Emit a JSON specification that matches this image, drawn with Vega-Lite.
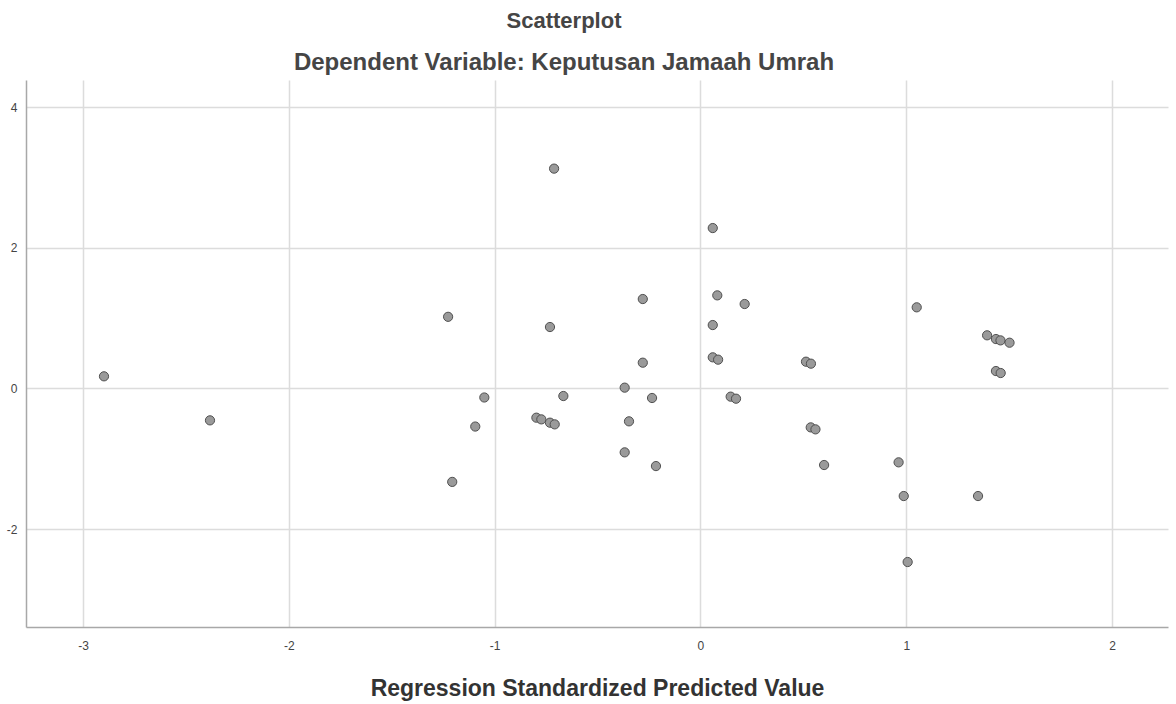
{
  "$schema": "https://vega.github.io/schema/vega-lite/v6.json",
  "autosize": "none",
  "width": 1142,
  "height": 547,
  "padding": {"left": 26, "top": 80, "right": 8, "bottom": 77},
  "background": "white",
  "config": {"view": {"stroke": null}, "font": "Liberation Sans"},
  "title": {
    "text": "Scatterplot",
    "subtitle": "Dependent Variable: Keputusan Jamaah Umrah",
    "anchor": "middle",
    "dx": -33,
    "offset": 4,
    "fontSize": 22,
    "fontWeight": "bold",
    "color": "#454545",
    "subtitleFontSize": 24,
    "subtitleFontWeight": "bold",
    "subtitleColor": "#454545",
    "subtitlePadding": 18,
    "font": "Liberation Sans",
    "subtitleFont": "Liberation Sans"
  },
  "data": {
    "values": [
      {"pred": -2.898, "resid": 0.171},
      {"pred": -2.383, "resid": -0.455},
      {"pred": -1.226, "resid": 1.017},
      {"pred": -1.050, "resid": -0.130},
      {"pred": -1.094, "resid": -0.543},
      {"pred": -1.206, "resid": -1.330},
      {"pred": -0.711, "resid": 3.124},
      {"pred": 0.060, "resid": 2.279},
      {"pred": -0.731, "resid": 0.872},
      {"pred": -0.280, "resid": 1.270},
      {"pred": 0.082, "resid": 1.322},
      {"pred": 0.215, "resid": 1.199},
      {"pred": 0.060, "resid": 0.900},
      {"pred": -0.280, "resid": 0.365},
      {"pred": 0.060, "resid": 0.441},
      {"pred": 0.086, "resid": 0.408},
      {"pred": -0.666, "resid": -0.109},
      {"pred": -0.368, "resid": 0.010},
      {"pred": -0.235, "resid": -0.137},
      {"pred": -0.797, "resid": -0.417},
      {"pred": -0.773, "resid": -0.441},
      {"pred": -0.731, "resid": -0.488},
      {"pred": -0.708, "resid": -0.512},
      {"pred": -0.347, "resid": -0.469},
      {"pred": -0.368, "resid": -0.910},
      {"pred": -0.216, "resid": -1.105},
      {"pred": 0.147, "resid": -0.118},
      {"pred": 0.173, "resid": -0.147},
      {"pred": 1.051, "resid": 1.152},
      {"pred": 1.393, "resid": 0.754},
      {"pred": 1.436, "resid": 0.701},
      {"pred": 1.458, "resid": 0.682},
      {"pred": 1.502, "resid": 0.649},
      {"pred": 1.436, "resid": 0.246},
      {"pred": 1.459, "resid": 0.218},
      {"pred": 0.513, "resid": 0.379},
      {"pred": 0.537, "resid": 0.351},
      {"pred": 0.536, "resid": -0.555},
      {"pred": 0.559, "resid": -0.583},
      {"pred": 0.601, "resid": -1.090},
      {"pred": 0.963, "resid": -1.052},
      {"pred": 0.988, "resid": -1.531},
      {"pred": 1.349, "resid": -1.531},
      {"pred": 1.007, "resid": -2.469}
    ]
  },
  "mark": {"type": "point", "filled": true, "fill": "#9a9a9a", "stroke": "#505050", "strokeWidth": 1, "opacity": 1, "size": 85, "shape": "circle"},
  "encoding": {
    "x": {
      "field": "pred",
      "type": "quantitative",
      "scale": {"domain": [-3.277, 2.272], "nice": false, "zero": false},
      "axis": {
        "values": [-3, -2, -1, 0, 1, 2],
        "labelExpr": "'' + datum.value",
        "title": "Regression Standardized Predicted Value",
        "titleFontSize": 23,
        "titleFontWeight": "bold",
        "titleColor": "#333333",
        "titlePadding": 26,
        "labelFontSize": 12,
        "labelColor": "#444444",
        "labelPadding": 13,
        "ticks": false,
        "domainColor": "#a8a8a8",
        "domainWidth": 1.5,
        "gridColor": "#dcdcdc",
        "gridWidth": 1.5
      }
    },
    "y": {
      "field": "resid",
      "type": "quantitative",
      "scale": {"domain": [-3.393, 4.384], "nice": false, "zero": false},
      "axis": {
        "values": [-2, 0, 2, 4],
        "labelExpr": "'' + datum.value",
        "title": null,
        "labelFontSize": 12,
        "labelColor": "#444444",
        "labelPadding": 9,
        "ticks": false,
        "domainColor": "#a8a8a8",
        "domainWidth": 1.5,
        "gridColor": "#dcdcdc",
        "gridWidth": 1.5
      }
    }
  }
}
